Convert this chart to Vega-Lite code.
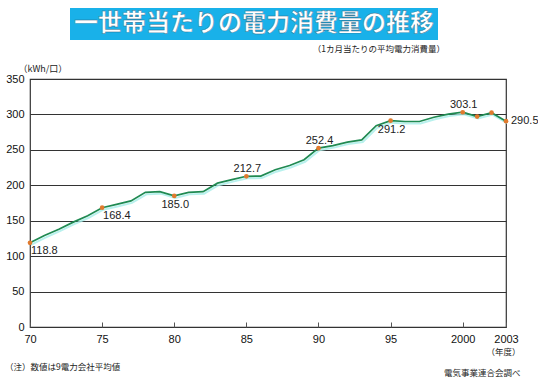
{
  "$schema": "https://vega.github.io/schema/vega-lite/v6.json",
  "padding": {"left": 5, "top": 8, "right": 0, "bottom": 0},
  "background": "white",
  "spacing": 3,
  "title": {
    "text": "（注）数値は9電力会社平均値",
    "orient": "bottom",
    "anchor": "start",
    "offset": -14,
    "font": "Noto Sans CJK JP",
    "fontSize": 8.5,
    "fontWeight": "normal",
    "color": "#222"
  },
  "datasets": {
    "power": [
      {"year": 1970, "v": 118.8},
      {"year": 1971, "v": 129},
      {"year": 1972, "v": 138},
      {"year": 1973, "v": 148},
      {"year": 1974, "v": 157},
      {"year": 1975, "v": 168.4},
      {"year": 1976, "v": 173},
      {"year": 1977, "v": 178},
      {"year": 1978, "v": 190},
      {"year": 1979, "v": 191},
      {"year": 1980, "v": 185.0},
      {"year": 1981, "v": 190},
      {"year": 1982, "v": 191},
      {"year": 1983, "v": 203},
      {"year": 1984, "v": 208},
      {"year": 1985, "v": 212.7},
      {"year": 1986, "v": 213},
      {"year": 1987, "v": 222},
      {"year": 1988, "v": 228},
      {"year": 1989, "v": 236},
      {"year": 1990, "v": 252.4},
      {"year": 1991, "v": 256},
      {"year": 1992, "v": 261},
      {"year": 1993, "v": 264},
      {"year": 1994, "v": 284},
      {"year": 1995, "v": 291.2},
      {"year": 1996, "v": 290},
      {"year": 1997, "v": 290},
      {"year": 1998, "v": 296},
      {"year": 1999, "v": 300.5},
      {"year": 2000, "v": 303.1},
      {"year": 2001, "v": 297},
      {"year": 2002, "v": 302.5},
      {"year": 2003, "v": 290.5}
    ]
  },
  "vconcat": [
    {
      "spacing": 10,
      "hconcat": [
        {
          "width": 30,
          "height": 32,
          "view": {"stroke": null},
          "data": {"values": [{"t": ""}]},
          "mark": {"type": "text"},
          "encoding": {"text": {"field": "t"}}
        },
        {
          "width": 368,
          "height": 32,
          "view": {"fill": "#19b1e9", "stroke": null},
          "data": {"values": [{"t": "一世帯当たりの電力消費量の推移"}]},
          "mark": {
            "type": "text",
            "align": "center",
            "baseline": "middle",
            "font": "Noto Sans CJK JP",
            "fontSize": 24,
            "fontWeight": "bold",
            "color": "white",
            "stroke": "#2a6a8a",
            "strokeWidth": 0.4
          },
          "encoding": {"text": {"field": "t"}}
        }
      ]
    },
    {
      "width": 476,
      "height": 248,
      "view": {"stroke": "#333", "strokeWidth": 1.2},
      "title": {
        "text": "（1カ月当たりの平均電力消費量）",
        "anchor": "end",
        "frame": "group",
        "dx": -61,
        "offset": 11,
        "font": "Noto Sans CJK JP",
        "fontSize": 8.5,
        "fontWeight": "normal",
        "color": "#222"
      },
      "data": {"name": "power"},
      "encoding": {
        "x": {
          "field": "year",
          "type": "quantitative",
          "scale": {"domain": [1970, 2003], "nice": false, "zero": false},
          "axis": {
            "values": [1970, 1975, 1980, 1985, 1990, 1995, 2000, 2003],
            "labelExpr": "datum.value < 2000 ? datum.value - 1900 : datum.value",
            "grid": false,
            "domain": false,
            "ticks": true,
            "tickSize": -5,
            "tickColor": "#555",
            "labelPadding": 11,
            "labelFlush": false,
            "labelOverlap": false,
            "labelFont": "Liberation Sans",
            "labelFontSize": 11,
            "labelColor": "#111",
            "title": ["（年度）", "電気事業連合会調べ"],
            "titleFont": "Noto Sans CJK JP",
            "titleFontSize": 8.5,
            "titleFontWeight": "normal",
            "titleColor": "#222",
            "titleAlign": "right",
            "titleAnchor": "start",
            "titleX": 490,
            "titleY": 20,
            "titleBaseline": "top",
            "titleLineHeight": 21
          }
        },
        "y": {
          "field": "v",
          "type": "quantitative",
          "scale": {"domain": [0, 350], "nice": false},
          "axis": {
            "values": [0, 50, 100, 150, 200, 250, 300, 350],
            "grid": true,
            "gridColor": "#333",
            "gridWidth": 1.2,
            "domain": false,
            "ticks": false,
            "tickSize": 0,
            "labelPadding": 6,
            "labelFont": "Liberation Sans",
            "labelFontSize": 11,
            "labelColor": "#111",
            "title": "（kWh/口）",
            "titleFont": "Noto Sans CJK JP",
            "titleFontSize": 9,
            "titleFontWeight": "normal",
            "titleColor": "#222",
            "titleAngle": 0,
            "titleAlign": "left",
            "titleBaseline": "alphabetic",
            "titleX": -12,
            "titleY": -8
          }
        }
      },
      "layer": [
        {
          "mark": {"type": "line", "color": "#a6eee8", "strokeWidth": 2, "xOffset": 1, "yOffset": 2, "opacity": 0.8}
        },
        {
          "mark": {"type": "line", "color": "#1f8a52", "strokeWidth": 1.7}
        },
        {
          "transform": [{"filter": {"field": "year", "oneOf": [1970, 1975, 1980, 1985, 1990, 1995, 2000, 2001, 2002, 2003]}}],
          "mark": {"type": "point", "filled": true, "color": "#e07a2e", "size": 22, "opacity": 1}
        },
        {
          "transform": [{"filter": {"field": "year", "oneOf": [1970, 1975]}}],
          "mark": {"type": "text", "align": "left", "baseline": "middle", "dx": 1, "dy": 8, "font": "Liberation Sans", "fontSize": 11, "color": "#222"},
          "encoding": {"text": {"field": "v", "type": "quantitative", "format": ".1f"}}
        },
        {
          "transform": [{"filter": {"field": "year", "oneOf": [1980, 1995]}}],
          "mark": {"type": "text", "align": "center", "baseline": "middle", "dx": 1, "dy": 9.5, "font": "Liberation Sans", "fontSize": 11, "color": "#222"},
          "encoding": {"text": {"field": "v", "type": "quantitative", "format": ".1f"}}
        },
        {
          "transform": [{"filter": {"field": "year", "oneOf": [1985, 1990, 2000]}}],
          "mark": {"type": "text", "align": "center", "baseline": "middle", "dx": 1, "dy": -7.5, "font": "Liberation Sans", "fontSize": 11, "color": "#222"},
          "encoding": {"text": {"field": "v", "type": "quantitative", "format": ".1f"}}
        },
        {
          "transform": [{"filter": {"field": "year", "oneOf": [2003]}}],
          "mark": {"type": "text", "align": "left", "baseline": "middle", "dx": 5, "dy": 0, "font": "Liberation Sans", "fontSize": 11, "color": "#222"},
          "encoding": {"text": {"field": "v", "type": "quantitative", "format": ".1f"}}
        }
      ]
    }
  ]
}
